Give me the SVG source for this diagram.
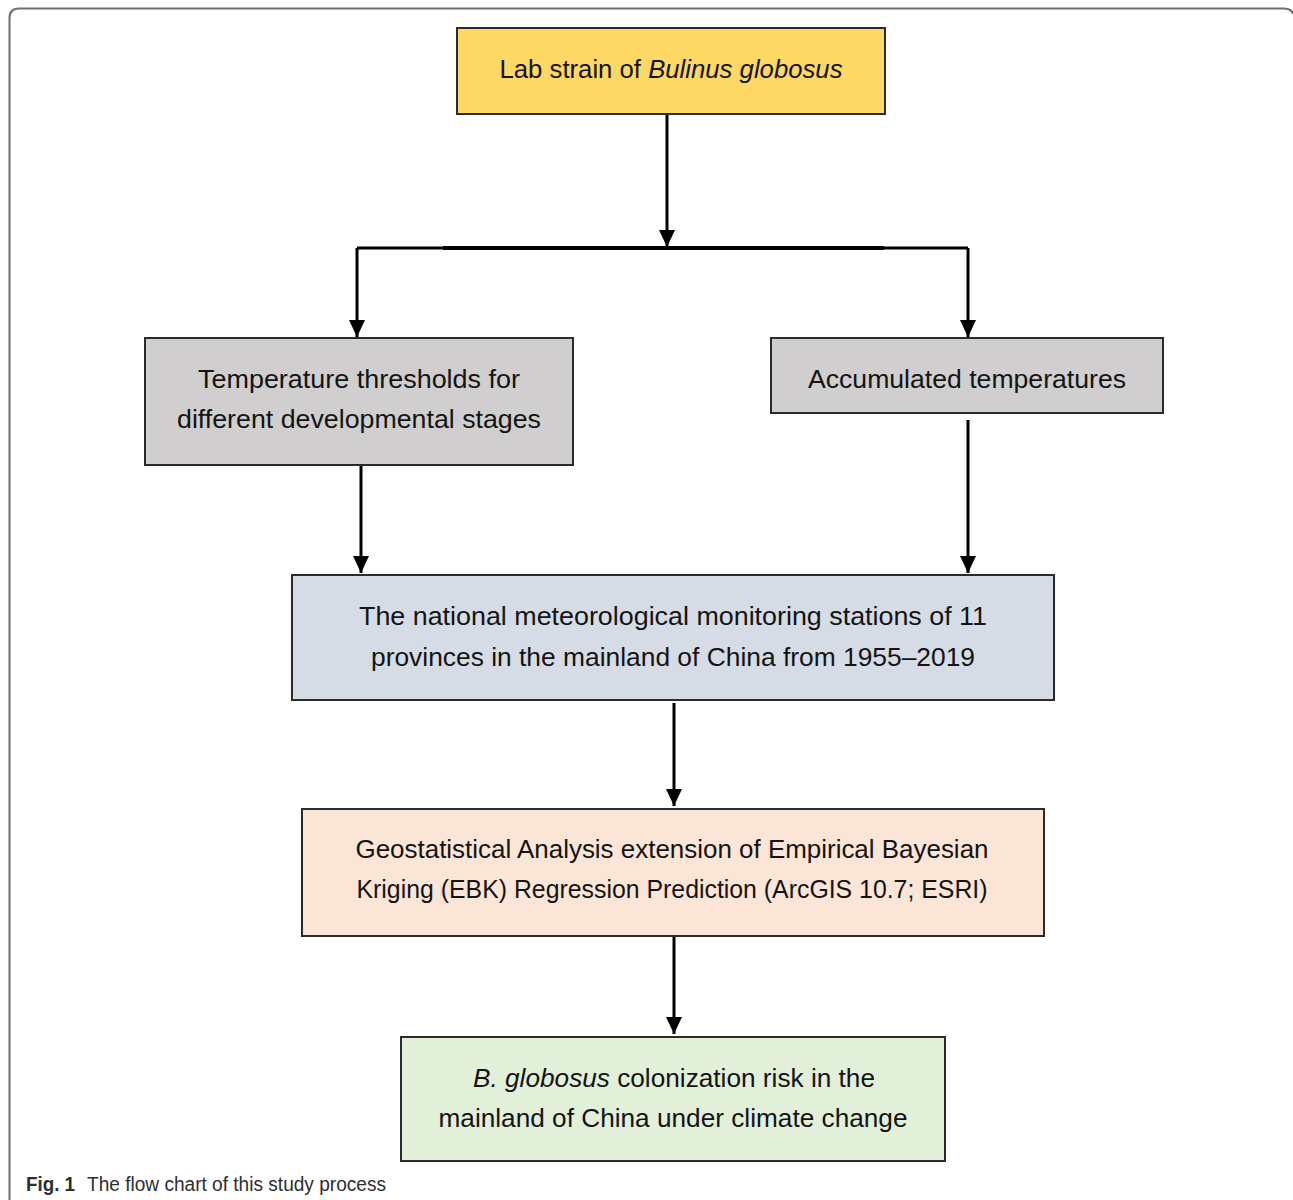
<svg xmlns="http://www.w3.org/2000/svg" width="1293" height="1200" viewBox="0 0 1293 1200">
<style>
.box{stroke:#2b2b2b;stroke-width:2}
.t{font-family:"Liberation Sans",Arial,sans-serif;font-size:26px;fill:#141414;text-anchor:middle}
.i{font-style:italic}
.con{stroke:#000;stroke-width:3;fill:none}
.cap{font-family:"Liberation Sans",Arial,sans-serif;font-size:20px;fill:#2e2e2e}
</style>
<defs>
<marker id="ah" markerUnits="userSpaceOnUse" markerWidth="18" markerHeight="16" refX="17" refY="8" orient="auto" viewBox="0 0 18 16">
<path d="M0,0 L17,8 L0,16 Z" fill="#000"/>
</marker>
</defs>
<rect width="1293" height="1200" fill="#fff"/>
<path d="M9.5,1200 V18 Q9.5,8.5 19,8.5 H1283 Q1292,8.5 1293,14" fill="none" stroke="#6e6e6e" stroke-width="2"/>

<g id="connectors">
<line class="con" x1="667" y1="114" x2="667" y2="247" marker-end="url(#ah)"/>
<polyline class="con" points="357,248 968,248"/>
<line x1="443" y1="248" x2="884" y2="248" stroke="#000" stroke-width="4"/>
<line class="con" x1="357" y1="248" x2="357" y2="337" marker-end="url(#ah)"/>
<line class="con" x1="968" y1="248" x2="968" y2="337" marker-end="url(#ah)"/>
<line class="con" x1="361" y1="465" x2="361" y2="573" marker-end="url(#ah)"/>
<line class="con" x1="968" y1="420" x2="968" y2="573" marker-end="url(#ah)"/>
<line class="con" x1="674" y1="703" x2="674" y2="806" marker-end="url(#ah)"/>
<line class="con" x1="674" y1="931" x2="674" y2="1034" marker-end="url(#ah)"/>
</g>

<g id="node-lab">
<rect class="box" x="457" y="28" width="428" height="86" fill="#fdd865"/>
<text class="t" x="671" y="78" textLength="343" lengthAdjust="spacingAndGlyphs">Lab strain of <tspan class="i">Bulinus globosus</tspan></text>
</g>

<g id="node-thresholds">
<rect class="box" x="145" y="338" width="428" height="127" fill="#d0cece"/>
<text class="t" x="359" y="388" textLength="322" lengthAdjust="spacingAndGlyphs">Temperature thresholds for</text>
<text class="t" x="359" y="428" textLength="364" lengthAdjust="spacingAndGlyphs">different developmental stages</text>
</g>

<g id="node-accumulated">
<rect class="box" x="771" y="338" width="392" height="75" fill="#d0cece"/>
<text class="t" x="967" y="388" textLength="318" lengthAdjust="spacingAndGlyphs">Accumulated temperatures</text>
</g>

<g id="node-stations">
<rect class="box" x="292" y="575" width="762" height="125" fill="#d6dce5"/>
<text class="t" x="673" y="625" textLength="628" lengthAdjust="spacingAndGlyphs">The national meteorological monitoring stations of 11</text>
<text class="t" x="673" y="666" textLength="604" lengthAdjust="spacingAndGlyphs">provinces in the mainland of China from 1955–2019</text>
</g>

<g id="node-ebk">
<rect class="box" x="302" y="809" width="742" height="127" fill="#fbe5d6"/>
<text class="t" x="672" y="858" textLength="633" lengthAdjust="spacingAndGlyphs">Geostatistical Analysis extension of Empirical Bayesian</text>
<text class="t" x="672" y="898" textLength="631" lengthAdjust="spacingAndGlyphs">Kriging (EBK) Regression Prediction (ArcGIS 10.7; ESRI)</text>
</g>

<g id="node-risk">
<rect class="box" x="401" y="1037" width="544" height="124" fill="#e2f0d9"/>
<text class="t" x="674" y="1087" textLength="402" lengthAdjust="spacingAndGlyphs"><tspan class="i">B. globosus</tspan> colonization risk in the</text>
<text class="t" x="673" y="1127" textLength="469" lengthAdjust="spacingAndGlyphs">mainland of China under climate change</text>
</g>

<g id="caption">
<text class="cap" x="26" y="1191" font-weight="bold" textLength="49" lengthAdjust="spacingAndGlyphs">Fig. 1</text>
<text class="cap" x="87" y="1191" textLength="299" lengthAdjust="spacingAndGlyphs">The flow chart of this study process</text>
</g>
</svg>
